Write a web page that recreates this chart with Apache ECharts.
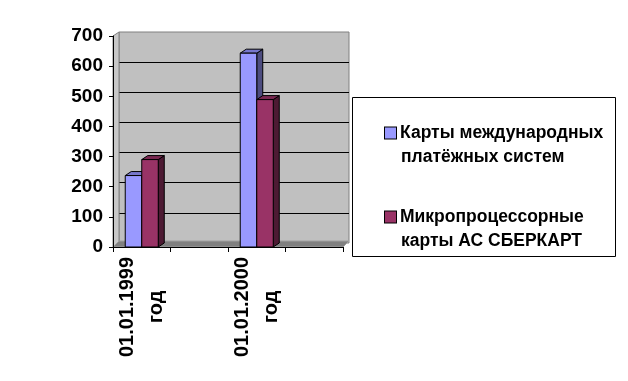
<!DOCTYPE html>
<html>
<head>
<meta charset="utf-8">
<script src="https://cdn.jsdelivr.net/npm/echarts@6/dist/echarts.min.js"></script>
<style>
html,body{margin:0;padding:0;background:#fff;}
#chart{width:628px;height:381px;}
</style>
</head>
<body>
<div id="chart"></div>
<script>
const categories = ['01.01.1999\nгод', '', '01.01.2000\nгод', ' '];
const seriesNames = ['Карты международных\nплатёжных систем', 'Микропроцессорные\nкарты АС СБЕРКАРТ'];
const intlValues = [237, null, 643, null];
const sberValues = [290, null, 489, null];
const yTicks = { min: 0, max: 700, interval: 100 };

const FONT = "'Liberation Sans', Arial, sans-serif";
const DX = 6, DY = -4;
const BAR_FRAC = 0.287;
const colors = [
  { front: '#9999FF', top: '#7777CC', side: '#4D4D80' },
  { front: '#993366', top: '#7A2952', side: '#4D1A33' }
];

function toData(vals) {
  return vals.map((v, i) => [i, v]).filter(d => d[1] != null);
}

function barRenderer(k) {
  return function (params, api) {
    const ci = api.value(0), v = api.value(1);
    const base = api.coord([ci, 0]);
    const top = api.coord([ci, v]);
    const bw = api.size([1, 0])[0] * BAR_FRAC;
    const x0 = base[0] - bw + k * bw;
    const x1 = x0 + bw;
    const ty = top[1], by = base[1];
    const c = colors[k];
    const st = { stroke: '#000', lineWidth: 1 };
    return {
      type: 'group',
      children: [
        { type: 'polygon', shape: { points: [[x1, ty], [x1 + DX, ty + DY], [x1 + DX, by + DY], [x1, by]] }, style: Object.assign({ fill: c.side }, st) },
        { type: 'polygon', shape: { points: [[x0, ty], [x1, ty], [x1 + DX, ty + DY], [x0 + DX, ty + DY]] }, style: Object.assign({ fill: c.top }, st) },
        { type: 'rect', shape: { x: x0, y: ty, width: bw, height: by - ty }, style: Object.assign({ fill: c.front }, st) }
      ]
    };
  };
}

function wallRenderer(params, api) {
  const c0 = api.coord([0, 0]);
  const w = api.size([1, 0])[0];
  const left = c0[0] - w / 2;
  const right = left + w * categories.length;
  const bottom = c0[1];
  const topY = api.coord([0, yTicks.max])[1];
  return {
    type: 'group',
    children: [
      { type: 'polygon', shape: { points: [[left, bottom], [left, topY], [left + DX, topY + DY], [left + DX, bottom + DY]] }, style: { fill: '#C8C8C8', stroke: '#808080', lineWidth: 1 } },
      { type: 'polygon', shape: { points: [[left, bottom], [right, bottom], [right + DX, bottom + DY - 2], [left + DX, bottom + DY - 2]] }, style: { fill: '#808080', stroke: '#A0A0A0', lineWidth: 1 } }
    ]
  };
}

const chart = echarts.init(document.getElementById('chart'), null, { renderer: 'canvas' });

const legendRich = {
  m0: { width: 11, height: 11, backgroundColor: colors[0].front, borderColor: '#000', borderWidth: 1, verticalAlign: 'middle' },
  m1: { width: 11, height: 11, backgroundColor: colors[1].front, borderColor: '#000', borderWidth: 1, verticalAlign: 'middle' },
  g: { width: 4 },
  s: { width: 16 },
  t: { fontFamily: FONT, fontSize: 17.5, fontWeight: 'bold', color: '#000', lineHeight: 24 }
};

chart.setOption({
  animation: false,
  backgroundColor: '#fff',
  grid: [
    { left: 113, top: 36, right: 285, bottom: 134, show: false },
    { left: 119, top: 32, right: 279, bottom: 138, show: true, backgroundColor: '#C0C0C0', borderColor: '#808080', borderWidth: 1 }
  ],
  xAxis: [
    {
      type: 'category', gridIndex: 0, data: categories, boundaryGap: true, z: 5,
      axisLine: { show: true, lineStyle: { color: '#000', width: 1 } },
      axisTick: { show: true, length: 5, interval: 0, lineStyle: { color: '#000' } },
      axisLabel: { interval: 0, rotate: 90, align: 'center', margin: 60, fontFamily: FONT, fontSize: 20, fontWeight: 'bold', color: '#000', lineHeight: 29 },
      splitLine: { show: false }
    },
    { type: 'category', gridIndex: 1, data: categories, show: false }
  ],
  yAxis: [
    {
      type: 'value', gridIndex: 0, min: yTicks.min, max: yTicks.max, interval: yTicks.interval, z: 5,
      axisLine: { show: true, lineStyle: { color: '#000', width: 1 } },
      axisTick: { show: true, length: 4, lineStyle: { color: '#000' } },
      axisLabel: { margin: 10, fontFamily: FONT, fontSize: 19, fontWeight: 'bold', color: '#000' },
      splitLine: { show: false }
    },
    {
      type: 'value', gridIndex: 1, min: yTicks.min, max: yTicks.max, interval: yTicks.interval,
      axisLine: { show: false }, axisTick: { show: false }, axisLabel: { show: false },
      splitLine: { show: true, showMinLine: false, showMaxLine: false, lineStyle: { color: '#000', width: 1 } }
    }
  ],
  legend: {
    orient: 'vertical', left: 375, top: 116, itemGap: 36,
    data: seriesNames,
    icon: 'rect', itemWidth: 0, itemHeight: 0, itemStyle: { opacity: 0 },
    selectedMode: false,
    formatter: function (name) {
      const k = seriesNames.indexOf(name);
      const lines = name.split('\n');
      return '{m' + k + '|}{g|}{t|' + lines[0] + '}\n{s|}{t|' + lines[1] + '}';
    },
    textStyle: { rich: legendRich, fontFamily: FONT, fontSize: 17.5, fontWeight: 'bold', lineHeight: 24 }
  },
  graphic: [
    { type: 'rect', left: 352, top: 97, shape: { width: 263, height: 159 }, style: { fill: '#fff', stroke: '#000', lineWidth: 1 }, z: -1 }
  ],
  series: [
    { type: 'custom', name: 'walls', xAxisIndex: 0, yAxisIndex: 0, data: [[0, 0]], renderItem: wallRenderer, z: 1, clip: false, silent: true },
    { type: 'custom', name: seriesNames[0], xAxisIndex: 0, yAxisIndex: 0, data: toData(intlValues), renderItem: barRenderer(0), z: 2, clip: false, itemStyle: { color: colors[0].front } },
    { type: 'custom', name: seriesNames[1], xAxisIndex: 0, yAxisIndex: 0, data: toData(sberValues), renderItem: barRenderer(1), z: 3, clip: false, itemStyle: { color: colors[1].front } }
  ]
});
</script>
</body>
</html>
